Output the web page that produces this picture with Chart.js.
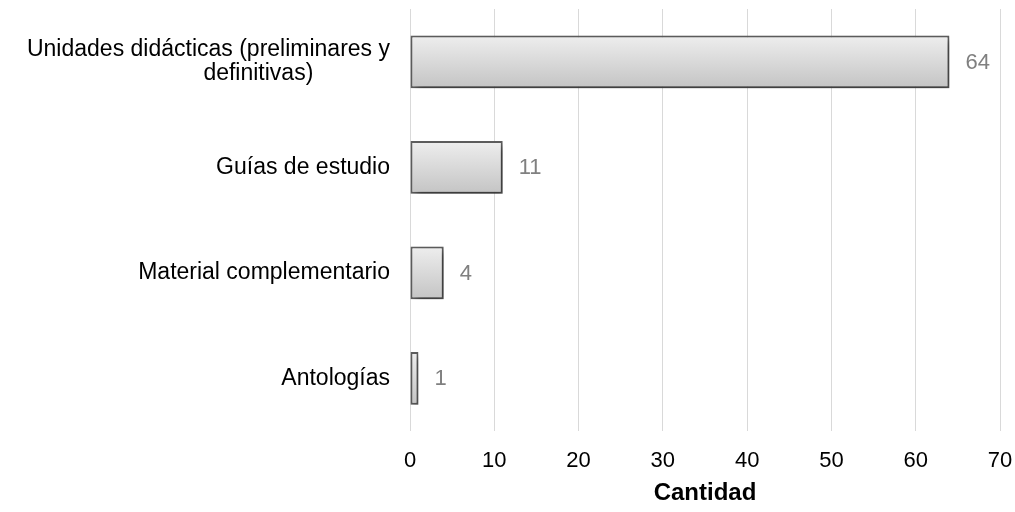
<!DOCTYPE html>
<html>
<head>
<meta charset="utf-8">
<script src="https://cdn.jsdelivr.net/npm/chart.js@4.4.1/dist/chart.umd.min.js"></script>
<style>
  html, body { margin: 0; padding: 0; background: #fff; }
  #wrap { width: 1015px; height: 512px; }
</style>
</head>
<body>
<div id="wrap"><canvas id="chart" width="1015" height="512"></canvas></div>
<script>
// data
const categories = [
  ['Unidades didácticas (preliminares y', 'definitivas)            '],
  'Guías de estudio',
  'Material complementario',
  'Antologías'
];
const cantidad = [64, 11, 4, 1];
const xTicks = [0, 10, 20, 30, 40, 50, 60, 70];
const axisTitle = 'Cantidad';

const FONT = 'Liberation Sans, Arial, sans-serif';
const BAR_PCT = 0.5;

// vertical gradient per bar
function barFill(ctx) {
  const chart = ctx.chart;
  const y = chart.scales.y;
  if (!y || !chart.chartArea) return '#dcdcdc';
  const c = y.getPixelForValue(ctx.dataIndex);
  const h = (y.height / categories.length) * BAR_PCT;
  const g = chart.ctx.createLinearGradient(0, c - h / 2, 0, c + h / 2);
  g.addColorStop(0, '#eeeeee');
  g.addColorStop(1, '#c4c4c4');
  return g;
}

// drop shadow under the bars
const barShadow = {
  id: 'barShadow',
  beforeDatasetsDraw(chart) {
    const ctx = chart.ctx;
    ctx.save();
    ctx.shadowColor = 'rgba(0,0,0,0.45)';
    ctx.shadowBlur = 7;
    ctx.shadowOffsetX = 3;
    ctx.shadowOffsetY = 4;
  },
  afterDatasetsDraw(chart) {
    chart.ctx.restore();
  }
};

// value labels right of each bar
const valueLabels = {
  id: 'valueLabels',
  afterDatasetsDraw(chart) {
    const ctx = chart.ctx;
    const meta = chart.getDatasetMeta(0);
    ctx.save();
    ctx.fillStyle = '#808080';
    ctx.font = '22px ' + FONT;
    ctx.textAlign = 'left';
    ctx.textBaseline = 'middle';
    meta.data.forEach((bar, i) => {
      ctx.fillText(String(cantidad[i]), bar.x + 16, bar.y + 1);
    });
    ctx.restore();
  }
};

new Chart(document.getElementById('chart'), {
  type: 'bar',
  data: {
    labels: categories,
    datasets: [{
      data: cantidad,
      backgroundColor: barFill,
      borderColor: '#5e5e5e',
      borderWidth: 2,
      borderSkipped: false,
      barPercentage: BAR_PCT,
      categoryPercentage: 1
    }]
  },
  options: {
    indexAxis: 'y',
    responsive: false,
    animation: false,
    layout: { padding: { top: 9, right: 15, left: 0, bottom: 0 } },
    plugins: {
      legend: { display: false },
      tooltip: { enabled: false }
    },
    scales: {
      x: {
        min: 0,
        max: 70,
        afterBuildTicks: s => { s.ticks = xTicks.map(v => ({ value: v })); },
        afterFit: s => { s.height = 81; s.paddingLeft = 0; s.paddingRight = 0; },
        grid: { color: '#d9d9d9', lineWidth: 1, drawTicks: false },
        border: { display: false },
        ticks: {
          color: '#000',
          padding: 17,
          maxRotation: 0,
          font: { family: FONT, size: 22 }
        },
        title: {
          display: true,
          text: axisTitle,
          color: '#000',
          padding: { top: 2, bottom: 4 },
          font: { family: FONT, size: 24, weight: 'bold' }
        }
      },
      y: {
        afterFit: s => { s.width = 410; s.paddingTop = 0; s.paddingBottom = 0; },
        grid: { display: false, drawTicks: false },
        border: { display: false },
        ticks: {
          color: '#000',
          padding: 20,
          font: { family: FONT, size: 23, lineHeight: 1.05 }
        }
      }
    }
  },
  plugins: [barShadow, valueLabels]
});
</script>
</body>
</html>
